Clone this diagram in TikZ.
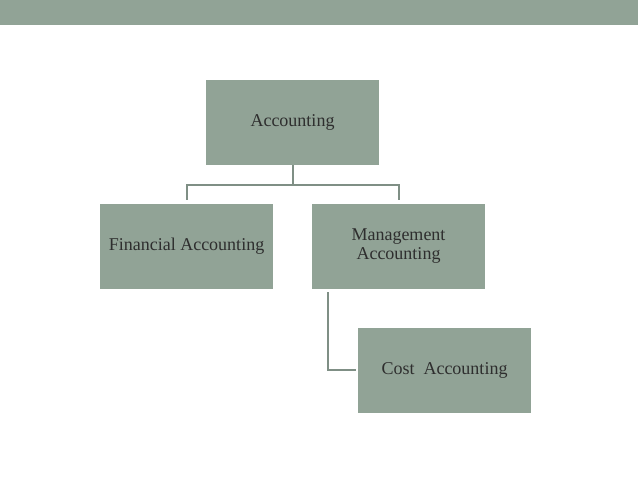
\documentclass[tikz,border=0pt]{standalone}
\usepackage{fontspec}
\setmainfont{Liberation Serif}
\definecolor{boxfill}{HTML}{91A396}
\definecolor{linec}{HTML}{7F8F85}
\definecolor{txt}{HTML}{2E2E2E}
\begin{document}
\begin{tikzpicture}[x=1pt,y=1pt,
  orgbox/.style={fill=boxfill,draw=none,minimum width=173pt,minimum height=85pt,inner sep=0pt,align=center,text=txt,font=\fontsize{18}{19}\selectfont},
  conn/.style={draw=linec,line width=2pt}]
\useasboundingbox (0,0) rectangle (638,-478);
\fill[boxfill] (0,0) rectangle (638,-25);
\node[orgbox] (acc) at (292.5,-122.5) {Accounting};
\node[orgbox] (fin) at (186.5,-246.5) {Financial Accounting};
\node[orgbox] (man) at (398.5,-246.5) {Management\\Accounting};
\node[orgbox] (cost) at (444.5,-370.5) {Cost\ \ Accounting};
\coordinate (j) at (292.5,-185);
\draw[conn] (acc.south) -- (j);
\draw[conn] ([yshift=4pt]fin.north) |- (j) -| ([yshift=4pt]man.north);
\draw[conn] ([xshift=-70.5pt,yshift=-3pt]man.south) |- ([xshift=-2pt]cost.west);
\end{tikzpicture}
\end{document}
